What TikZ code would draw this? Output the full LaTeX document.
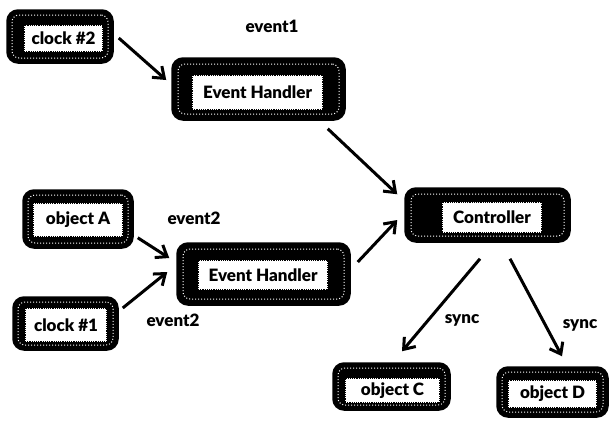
\documentclass[tikz,border=0pt]{standalone}
\usepackage{fontspec}
\setmainfont{Liberation Sans}
\newfontfamily\heavyfont{Lato Black}
\usetikzlibrary{arrows.meta,calc}
\tikzset{
  outerbox/.style={draw=black, fill=black, line width=1.5pt, rounded corners=11pt, inner sep=0pt},
  ringbox/.style={draw=white, dotted, line width=1pt, rounded corners=7pt, inner sep=0pt},
  textbox/.style={draw=black, fill=white, densely dotted, line width=1.2pt, inner sep=0pt,
    font=\fontsize{17}{19}\heavyfont},
  lbl/.style={font=\fontsize{17}{19}\heavyfont, inner sep=0pt},
  conn/.style={line width=3pt, -{Straight Barb[length=10pt,width=15pt]}}
}
\begin{document}
\begin{tikzpicture}[x=1pt,y=-1pt]
\useasboundingbox (0,0) rectangle (609,423);
% clock #2
\node[outerbox, minimum width=106, minimum height=53] (c2) at (60,36.5) {};
\node[ringbox, minimum width=96, minimum height=43] (c2r) at (c2) {};
\node[textbox, minimum width=79, minimum height=27] (c2t) at (63.5,38.5) {clock \#2};
% event handler 1
\node[outerbox, minimum width=173, minimum height=62] (eh1) at (258.5,89) {};
\node[ringbox, minimum width=161, minimum height=50] (eh1r) at (eh1) {};
\node[textbox, minimum width=131, minimum height=35] (eh1t) at (257.5,92.5) {Event Handler};
% object A
\node[outerbox, minimum width=110, minimum height=58] (oa) at (78,219) {};
\node[ringbox, minimum width=100, minimum height=48] (oar) at (oa) {};
\node[textbox, minimum width=90, minimum height=34] (oat) at (78,220) {object A};
% event handler 2
\node[outerbox, minimum width=173, minimum height=62] (eh2) at (263.5,274) {};
\node[ringbox, minimum width=161, minimum height=50] (eh2r) at (eh2) {};
\node[textbox, minimum width=130, minimum height=30] (eh2t) at (263,275) {Event Handler};
% clock #1
\node[outerbox, minimum width=105, minimum height=53] (c1) at (65.5,323.5) {};
\node[ringbox, minimum width=95, minimum height=43] (c1r) at (c1) {};
\node[textbox, minimum width=82, minimum height=34] (c1t) at (66,325) {clock \#1};
% controller
\node[outerbox, minimum width=165, minimum height=54] (ctrl) at (487.5,215) {};
\node[ringbox, minimum width=153, minimum height=42] (ctrlr) at (ctrl) {};
\node[textbox, minimum width=100, minimum height=31] (ctrlt) at (492,217.5) {Controller};
% object C
\node[outerbox, minimum width=117, minimum height=47] (oc) at (391.5,386.5) {};
\node[ringbox, minimum width=107, minimum height=37] (ocr) at (oc) {};
\node[textbox, minimum width=95, minimum height=25] (oct) at (392.5,390.5) {object C};
% object D
\node[outerbox, minimum width=111, minimum height=50] (od) at (552.5,392) {};
\node[ringbox, minimum width=101, minimum height=40] (odr) at (od) {};
\node[textbox, minimum width=89, minimum height=28] (odt) at (552.5,394) {object D};
% labels
\node[lbl] (ev1) at (272,26) {event1};
\node[lbl] (ev2a) at (194,218) {event2};
\node[lbl] (ev2b) at (173,320) {event2};
\node[lbl] (sy1) at (462,320) {sync};
\node[lbl] (sy2) at (580,325) {sync};
% connectors
\draw[conn] ($(c2.east)+(5,1.5)$) -- ($(eh1.west)+(-5,-9)$);
\draw[conn] ($(eh1.south east)+(-18,8)$) -- ($(ctrl.north west)+(-7,7)$);
\draw[conn] ($(oa.south east)+(4,-11)$) -- ($(eh2.west)+(-7,-16)$);
\draw[conn] ($(c1.east)+(4,-15.5)$) -- ($(eh2.west)+(-9,-2)$);
\draw[conn] ($(eh2.east)+(7,-12)$) -- ($(ctrl.west)+(-7,5)$);
\draw[conn] ($(ctrl.south)+(-7.5,16)$) -- ($(oc.north)+(10.5,-11)$);
\draw[conn] ($(ctrl.south)+(22.5,16)$) -- ($(od.north)+(9.5,-10)$);
\end{tikzpicture}
\end{document}
